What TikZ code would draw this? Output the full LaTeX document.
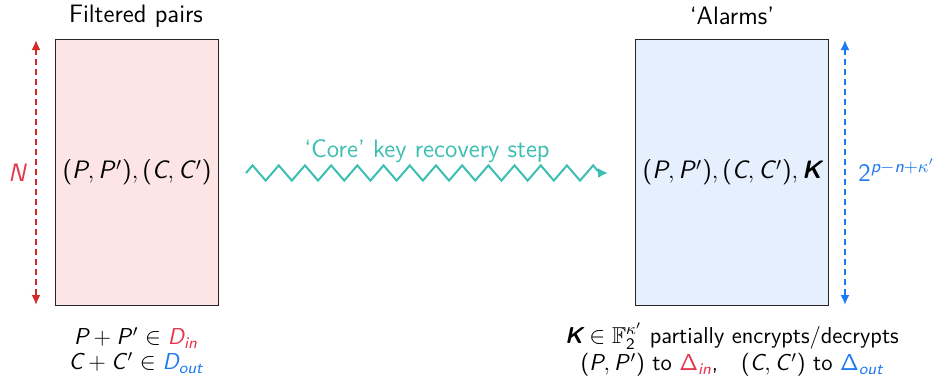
\documentclass[tikz,border=0pt]{standalone}
\usepackage{amsmath,amssymb}
\renewcommand{\familydefault}{\sfdefault}
\usetikzlibrary{arrows.meta,decorations.pathmorphing}

% sans-serif maths: upright sans for digits, brackets, + and Greek capitals,
% oblique sans for Latin letters, bold oblique sans for vectors
\DeclareSymbolFont{operators}{TU}{lmss}{m}{n}
\DeclareSymbolFont{sfitalic}{TU}{lmss}{m}{sl}
\DeclareMathAlphabet{\mathbsf}{TU}{lmss}{bx}{sl}
\makeatletter
\@tempcnta=`A
\loop
  \begingroup\lccode`X=\@tempcnta \lowercase{\endgroup
    \DeclareMathSymbol{X}{\mathalpha}{sfitalic}{\@tempcnta}}%
  \advance\@tempcnta by 1
\ifnum\@tempcnta<`[ \repeat
\@tempcnta=`a
\loop
  \begingroup\lccode`X=\@tempcnta \lowercase{\endgroup
    \DeclareMathSymbol{X}{\mathalpha}{sfitalic}{\@tempcnta}}%
  \advance\@tempcnta by 1
\ifnum\@tempcnta<`\{ \repeat
\makeatother
\Umathchardef\Delta="0 \symoperators "0394
% prime with a little room after a slanted letter
\newcommand\pr{\mkern1.5mu{}'}

\definecolor{inred}{RGB}{228,52,78}
\definecolor{arrred}{RGB}{214,40,36}
\definecolor{outblue}{RGB}{30,122,240}
\definecolor{teal2}{RGB}{60,190,178}
\definecolor{pinkfill}{RGB}{253,229,229}
\definecolor{bluefill}{RGB}{229,239,253}

\tikzset{
  setbox/.style={draw=black!85, line width=0.6pt, inner sep=0pt},
  sizearrow/.style={line width=0.9pt, dash pattern=on 3pt off 2pt, {Latex[length=5pt,width=4.5pt]}-{Latex[length=5pt,width=4.5pt]}},
  lbl/.style={font=\fontsize{12.6}{15}\selectfont, inner sep=1pt},
  sml/.style={font=\fontsize{11.5}{13}\selectfont, inner sep=0pt},
}

\begin{document}
\begin{tikzpicture}[x=0.5pt, y=-0.5pt]
  \useasboundingbox (0,0) rectangle (934,380);

  % the two sets
  \node[setbox, fill=pinkfill, minimum width=81.5pt, minimum height=133pt, anchor=north west] (filt) at (55,39) {};
  \node[setbox, fill=bluefill, minimum width=96.5pt, minimum height=133pt, anchor=north west] (alarm) at (635,39) {};

  \node[lbl] (filtc) at (filt.center) {$(P,P\pr),(C,C\pr)$};
  \node[lbl] (alarmc) at (alarm.center) {$(P,P\pr),(C,C\pr),\mathbsf{K}$};

  % titles
  \node[lbl] (filtt) at (136,16) {Filtered pairs};
  \node[lbl] (alarmt) at (732,16) {`Alarms'};

  % size arrows
  \coordinate (la) at (36,40);
  \coordinate (lb) at (36,305);
  \draw[sizearrow, arrred] (la) -- (lb);
  \node[lbl, text=inred] (nl) at (17,173) {$N$};

  \coordinate (ra) at (845,40);
  \coordinate (rb) at (845,305);
  \draw[sizearrow, outblue] (ra) -- (rb);
  \node[lbl, text=outblue, anchor=west] (rl) at (856,170) {$2^{p-n+\kappa'}$};

  % key recovery step
  \coordinate (zs) at (246,173);
  \coordinate (ze) at (608,173);
  \draw[teal2, line width=1pt, decorate,
        decoration={zigzag, segment length=13.1pt, amplitude=3.8pt, post length=3pt},
        -{Latex[length=5pt,width=5pt]}] (zs) -- (ze);
  \node[lbl, text=teal2] (core) at (427,151) {`Core' key recovery step};

  % conditions
  \node[sml] (cond1) at (136,338) {$P+P\pr\in\textcolor{inred}{D_{in}}$};
  \node[sml] (cond2) at (136,363) {$C+C\pr\in\textcolor{outblue}{D_{out}}$};
  \node[sml] (kdesc1) at (732,336)
    {$\mathbsf{K}\in\mathbb{F}_2^{\kappa'}$ partially encrypts/decrypts};
  \node[sml] (kdesc2) at (732,365)
    {$(P,P\pr)$ to $\textcolor{inred}{\Delta_{in}}$,\quad $(C,C\pr)$ to $\textcolor{outblue}{\Delta_{out}}$};
\end{tikzpicture}
\end{document}
